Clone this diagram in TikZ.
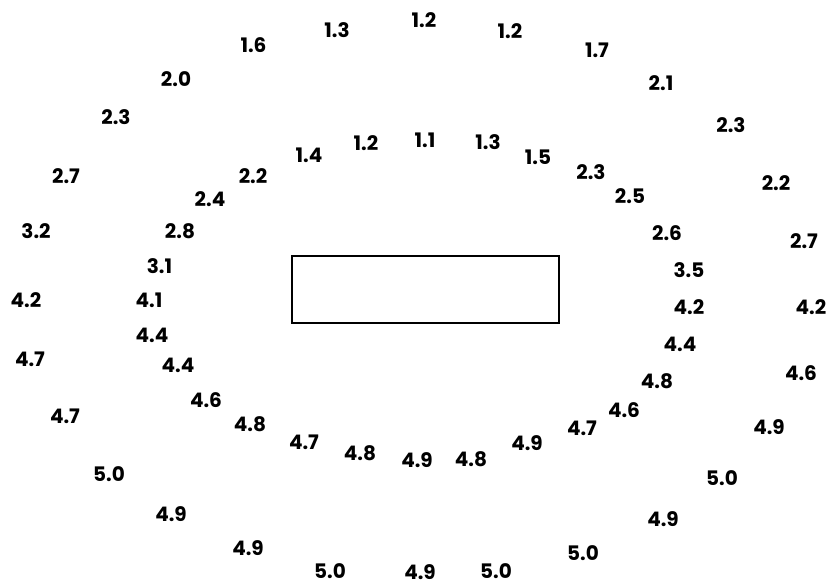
\documentclass[tikz,border=0pt]{standalone}
\usepackage{fontspec}
\setmainfont{Poppins}
\tikzset{val/.style={inner sep=0pt, font=\bfseries\fontsize{20}{22}\selectfont, anchor=center},
  box/.style={draw, line width=1.4pt, inner sep=0pt}}
\begin{document}
\begin{tikzpicture}[x=1pt,y=-1pt]
\useasboundingbox (0,0) rectangle (828,585);
\node[box, minimum width=267pt, minimum height=67pt] (rect) at (425.5,289.5) {};
% outer ring
\foreach \x/\y/\t [count=\i] in {
 337/30.5/1.3, 424/20/1.2, 510/31.5/1.2, 253.5/45/1.6, 597/50/1.7,
 176/79/2.0, 661/83/2.1, 116/117/2.3, 731/125/2.3, 66/176/2.7,
 776/183/2.2, 36/231.5/3.2, 804/241/2.7, 26/300/4.2, 811/307/4.2,
 30/359/4.7, 801/373/4.6, 65/416/4.7, 769/427/4.9, 109/474/5.0,
 722/478.5/5.0, 171/514/4.9, 663/519.5/4.9, 248/548/4.9, 583/553.5/5.0,
 330/571/5.0, 420/572/4.9, 496/571.5/5.0}
 \node[val] (o\i) at (\x,\y) {\t};
% inner ring
\foreach \x/\y/\t [count=\i] in {
 309/155/1.4, 366/143/1.2, 425/140.5/1.1, 488/142.5/1.3, 538/157.5/1.5,
 253/176/2.2, 591/172/2.3, 210/199/2.4, 630/196/2.5, 180/231/2.8,
 667/233/2.6, 159.5/266/3.1, 689/270/3.5, 149/300/4.1, 689/307/4.2,
 152/335.5/4.4, 680/344.5/4.4, 178/365/4.4, 657/381/4.8, 206/400/4.6,
 624/410/4.6, 250/424/4.8, 582/428.5/4.7, 304/442/4.7, 527/443/4.9,
 360/453/4.8, 417/460/4.9, 471/459/4.8}
 \node[val] (n\i) at (\x,\y) {\t};
\end{tikzpicture}
\end{document}
